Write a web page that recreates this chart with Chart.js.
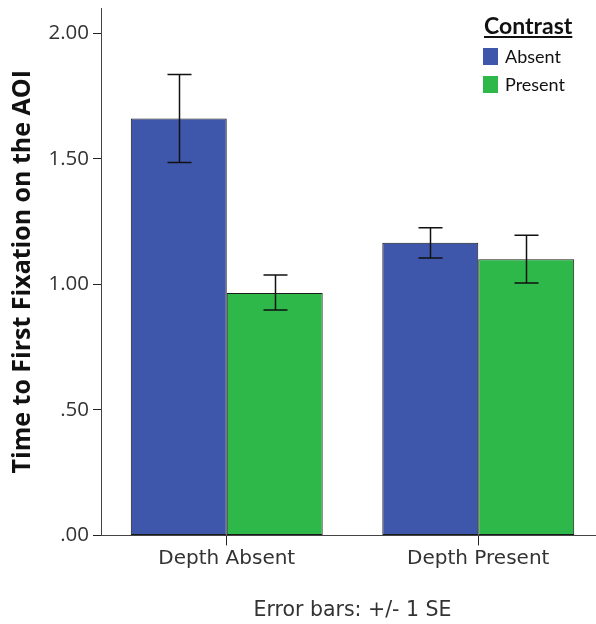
<!DOCTYPE html>
<html>
<head>
<meta charset="utf-8">
<script src="https://cdn.jsdelivr.net/npm/chart.js@4"></script>
<style>
  html, body { margin: 0; padding: 0; background: #fff; overflow: hidden; }
  #wrap { position: relative; width: 596px; height: 624px; overflow: hidden; }
  #chart { position: absolute; left: 0; top: 0; }
  #legend { position: absolute; left: 483px; top: 11px; font-family: Lato, "Open Sans", sans-serif; color: #111; }
  #legend .ttl { font-weight: bold; font-size: 23px; text-decoration: underline; margin-left: 1px; }
  #legend .item { display: flex; align-items: center; font-size: 18px; margin-top: 6px; }
  #legend .sw { width: 15px; height: 17px; margin-right: 7px; }
</style>
</head>
<body>
<div id="wrap">
  <canvas id="chart" width="604" height="624"></canvas>
  <div id="legend">
    <div class="ttl">Contrast</div>
    <div class="item"><span class="sw" style="background:#3f57aa"></span>Absent</div>
    <div class="item"><span class="sw" style="background:#2eb84a"></span>Present</div>
  </div>
</div>
<script>
// values
const categories = ['Depth Absent', 'Depth Present'];
const absentMean = [1.66, 1.165];
const absentLow = [1.485, 1.105];
const absentHigh = [1.835, 1.225];
const presentMean = [0.965, 1.10];
const presentLow = [0.897, 1.005];
const presentHigh = [1.037, 1.195];
const yTicks = [0, 0.5, 1.0, 1.5, 2.0];

const errorBars = {
    id: 'errorBars',
    afterDatasetsDraw(chart) {
        const ctx = chart.ctx;
        const y = chart.scales.y;
        chart.data.datasets.forEach((ds, i) => {
            const meta = chart.getDatasetMeta(i);
            meta.data.forEach((bar, j) => {
                const lo = y.getPixelForValue(ds.errLow[j]);
                const hi = y.getPixelForValue(ds.errHigh[j]);
                const x = Math.round(bar.x) + 0.5;
                ctx.save();
                ctx.strokeStyle = '#111';
                ctx.lineWidth = 1.5;
                ctx.beginPath();
                ctx.moveTo(x, lo); ctx.lineTo(x, hi);
                ctx.moveTo(x - 12, lo); ctx.lineTo(x + 12, lo);
                ctx.moveTo(x - 12, hi); ctx.lineTo(x + 12, hi);
                ctx.stroke();
                ctx.restore();
            });
        });
    }
};

function draw() {
    const ctx = document.getElementById('chart').getContext('2d');
    new Chart(ctx, {
        type: 'bar',
        data: {
            labels: categories,
            datasets: [
                { label: 'Absent', data: absentMean, errLow: absentLow, errHigh: absentHigh,
                  backgroundColor: '#3f57aa', borderColor: '#1a1a1a', borderWidth: 1, borderSkipped: false },
                { label: 'Present', data: presentMean, errLow: presentLow, errHigh: presentHigh,
                  backgroundColor: '#2eb84a', borderColor: '#1a1a1a', borderWidth: 1, borderSkipped: false }
            ]
        },
        options: {
            responsive: false,
            animation: false,
            barPercentage: 1,
            categoryPercentage: 0.763,
            layout: { padding: { left: 8, top: 8, right: 0, bottom: 0 } },
            plugins: { legend: { display: false }, tooltip: { enabled: false } },
            scales: {
                x: {
                    border: { display: true, color: '#444', width: 1 },
                    grid: { offset: false, drawOnChartArea: false, drawTicks: true, tickLength: 10, color: '#222' },
                    ticks: { color: '#333', padding: 1, font: { family: 'DejaVu Sans', size: 20 } },
                    title: { display: true, text: 'Error bars: +/- 1 SE', color: '#333',
                             font: { family: 'DejaVu Sans', size: 20.5 }, padding: { top: 27, bottom: 1 } }
                },
                y: {
                    min: 0,
                    max: 2.1,
                    afterBuildTicks: scale => { scale.ticks = yTicks.map(v => ({ value: v })); },
                    afterFit: scale => { scale.width = 93; scale.paddingTop = 0; scale.paddingBottom = 0; },
                    border: { display: true, color: '#444', width: 1 },
                    grid: { drawOnChartArea: false, drawTicks: true, tickLength: 8, color: '#222' },
                    ticks: { color: '#333', padding: 4, font: { family: 'Open Sans', size: 20.5 },
                             callback: v => v.toFixed(2).replace(/^0/, '') },
                    title: { display: true, text: 'Time to First Fixation on the AOI', color: '#111',
                             font: { family: 'Open Sans', size: 25, weight: 'bold' }, padding: 0 }
                }
            }
        },
        plugins: [errorBars]
    });
}

Promise.all([
    document.fonts.load('20px "Open Sans"'),
    document.fonts.load('bold 25px "Open Sans"'),
    document.fonts.load('20px "DejaVu Sans"')
]).then(draw, draw);
</script>
</body>
</html>
